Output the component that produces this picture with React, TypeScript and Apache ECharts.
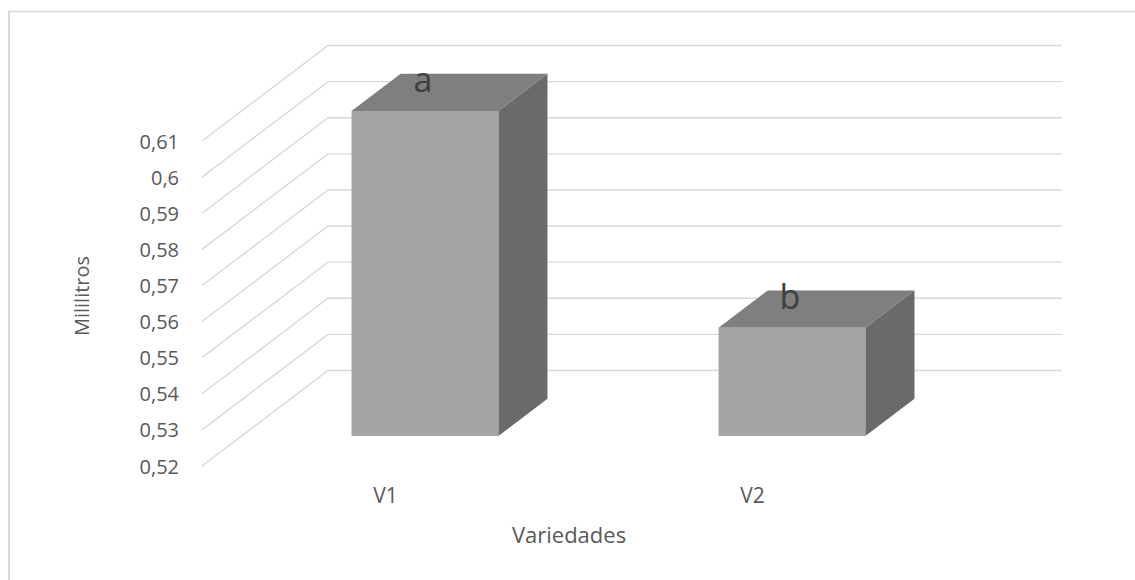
import React, { useEffect, useRef } from "react";
import * as echarts from "echarts";

// Varieties, mean volume (mL) and significance letters
const CATEGORIES = ["V1", "V2"];
const VALUES = [0.61, 0.55];
const LETTERS = ["a", "b"];
// Value-axis ticks (front wall / back wall gridlines)
const TICKS = [0.52, 0.53, 0.54, 0.55, 0.56, 0.57, 0.58, 0.59, 0.6, 0.61];

const Y_MIN = 0.52;
const Y_MAX = 0.61;
const Y_STEP = 0.01;

// Oblique projection of the chart depth (pixels from front plane to back wall)
const DEPTH = { dx: 126, dy: -95.5 };
const BAR_FRONT = 0.313; // depth fraction where the bar's front face sits
const BAR_DEPTH = 0.39; // depth fraction occupied by a bar
const BAR_WIDTH = 0.4; // bar width as a fraction of its category band

const FONT = "'Open Sans', 'Noto Sans', sans-serif";
const TEXT = "#595959";
const GRID = "#D9D9D9";

const fmt = (v: number) => String(Math.round(v * 100) / 100).replace(".", ",");

export default function App() {
  const ref = useRef<HTMLDivElement>(null);

  useEffect(() => {
    if (!ref.current) return;
    const chart = echarts.init(ref.current, undefined, { renderer: "svg" });

    const wallData = TICKS.map((t) => [0, t]);
    const barData = CATEGORIES.map((c, i) => [i, VALUES[i], LETTERS[i]]);

    chart.setOption({
      animation: false,
      backgroundColor: "#ffffff",
      grid: { left: 202, top: 141, width: 734, height: 325 },
      xAxis: {
        type: "category",
        data: CATEGORIES,
        boundaryGap: true,
        axisLine: { show: false },
        axisTick: { show: false },
        axisLabel: { color: TEXT, fontFamily: FONT, fontSize: 21, margin: 18 },
        name: "Variedades",
        nameLocation: "middle",
        nameGap: 57,
        nameTextStyle: { color: TEXT, fontFamily: FONT, fontSize: 22 },
      },
      yAxis: {
        type: "value",
        min: Y_MIN,
        max: Y_MAX,
        interval: Y_STEP,
        axisLine: { show: false },
        axisTick: { show: false },
        splitLine: { show: false },
        axisLabel: {
          color: TEXT,
          fontFamily: FONT,
          fontSize: 20,
          margin: 23,
          formatter: (v: number) => fmt(v),
        },
      },
      graphic: [
        {
          type: "line",
          shape: { x1: 9, y1: 11.5, x2: 9, y2: 600 },
          style: { stroke: GRID, lineWidth: 2 },
        },
        {
          type: "line",
          shape: { x1: 8, y1: 11.5, x2: 1200, y2: 11.5 },
          style: { stroke: GRID, lineWidth: 1.5 },
        },
        {
          type: "text",
          x: 81,
          y: 296,
          rotation: Math.PI / 2,
          style: {
            text: "Mililitros",
            fill: TEXT,
            font: `20px ${FONT}`,
            textAlign: "center",
            textVerticalAlign: "middle",
          },
        },
      ],
      series: [
        {
          // Side wall diagonals joined to the back wall gridlines
          type: "custom",
          name: "walls",
          z: 1,
          clip: false,
          silent: true,
          data: wallData,
          encode: { x: 0, y: 1 },
          renderItem: (params: any, api: any) => {
            const cs = params.coordSys;
            const y = api.coord([0, api.value(1)])[1];
            const left = cs.x;
            const right = cs.x + cs.width;
            return {
              type: "polyline",
              shape: {
                points: [
                  [left, y],
                  [left + DEPTH.dx, y + DEPTH.dy],
                  [right + DEPTH.dx, y + DEPTH.dy],
                ],
              },
              style: { stroke: GRID, lineWidth: 1.4, fill: "none" },
            };
          },
        },
        {
          // 3D boxes: front face, top face, right side face, letter label
          type: "custom",
          name: "bars",
          z: 2,
          clip: false,
          data: barData,
          encode: { x: 0, y: 1 },
          renderItem: (params: any, api: any) => {
            const idx = api.value(0);
            const val = api.value(1);
            const base = api.coord([idx, Y_MIN]);
            const top = api.coord([idx, val]);
            const band = api.size([1, 0])[0];
            const w = band * BAR_WIDTH;
            const cx = base[0] + DEPTH.dx * BAR_FRONT;
            const yb = base[1] + DEPTH.dy * BAR_FRONT;
            const yt = top[1] + DEPTH.dy * BAR_FRONT;
            const ddx = DEPTH.dx * BAR_DEPTH;
            const ddy = DEPTH.dy * BAR_DEPTH;
            const x0 = cx - w / 2;
            const x1 = cx + w / 2;
            const letter = LETTERS[idx];
            return {
              type: "group",
              children: [
                {
                  type: "polygon",
                  shape: {
                    points: [
                      [x1, yt],
                      [x1 + ddx, yt + ddy],
                      [x1 + ddx, yb + ddy],
                      [x1, yb],
                    ],
                  },
                  style: { fill: "#6A6A6A" },
                },
                {
                  type: "polygon",
                  shape: {
                    points: [
                      [x0, yt],
                      [x1, yt],
                      [x1 + ddx, yt + ddy],
                      [x0 + ddx, yt + ddy],
                    ],
                  },
                  style: { fill: "#7F7F7F" },
                },
                {
                  type: "rect",
                  shape: { x: x0, y: yt, width: w, height: yb - yt },
                  style: { fill: "#A5A5A5" },
                },
                {
                  type: "text",
                  x: cx - 2,
                  y: yt - 32,
                  style: {
                    text: letter,
                    fill: "#404040",
                    font: `34px ${FONT}`,
                    textAlign: "center",
                    textVerticalAlign: "middle",
                  },
                },
              ],
            };
          },
        },
      ],
    });

    return () => chart.dispose();
  }, []);

  return (
    <div
      ref={ref}
      style={{ position: "fixed", left: 0, top: 0, width: 1135, height: 580 }}
    />
  );
}
